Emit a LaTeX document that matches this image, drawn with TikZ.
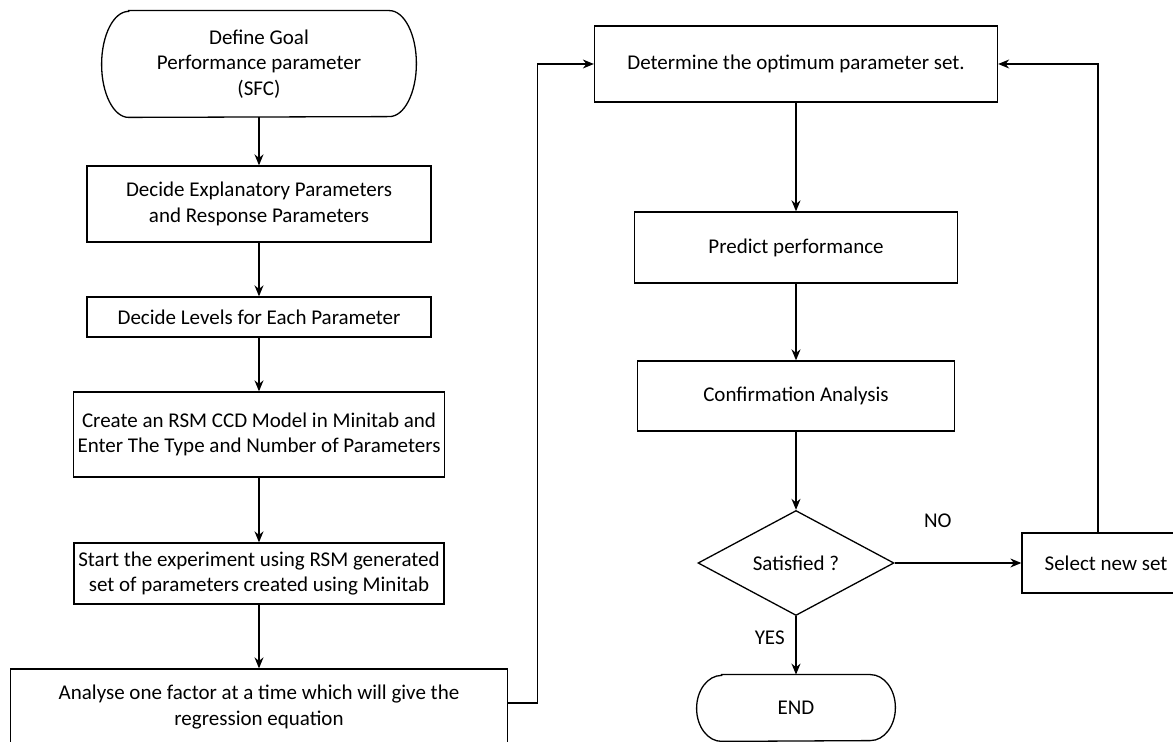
\documentclass[tikz,border=0pt]{standalone}
\usepackage{fontspec}
\setmainfont{Carlito}
\usepackage{tikz}
\usetikzlibrary{arrows.meta,positioning,shapes.geometric}

\begin{document}
\begin{tikzpicture}[x=0.5pt, y=-0.5pt,
      font=\fontsize{10.5}{12.6}\selectfont,
      box/.style={draw, line width=0.65pt, align=center, inner sep=2pt},
      term/.style={align=center, inner sep=2pt},
      dec/.style={diamond, draw, line width=0.65pt, inner sep=0pt},
      arr/.style={line width=0.65pt, -{Stealth[length=5.5pt, width=4.5pt]}}]
    \useasboundingbox (0,0) rectangle (1173,742);
    \node[term, minimum width=157pt, minimum height=53pt] (goal) at (259,64) {Define Goal\\Performance parameter\\(SFC)};
    \node[box, minimum width=172pt, minimum height=38pt] (expl) at (259,204) {Decide Explanatory Parameters\\and Response Parameters};
    \node[box, minimum width=172pt, minimum height=20pt] (levels) at (259,317) {Decide Levels for Each Parameter};
    \node[box, minimum width=185pt, minimum height=42.5pt] (model) at (259,434.5) {Create an RSM CCD Model in Minitab and\\Enter The Type and Number of Parameters};
    \node[box, minimum width=185pt, minimum height=30.5pt] (expt) at (259,573.5) {Start the experiment using RSM generated\\set of parameters created using Minitab};
    \node[box, minimum width=248.5pt, minimum height=38pt] (analyse) at (259,707) {Analyse one factor at a time which will give the\\regression equation};
    \node[box, minimum width=201.5pt, minimum height=38pt] (optim) at (796,64) {Determine the optimum parameter set.};
    \node[box, minimum width=161.5pt, minimum height=35.5pt] (predict) at (796,247.5) {Predict performance};
    \node[box, minimum width=158.5pt, minimum height=35pt] (confirm) at (796,396) {Confirmation Analysis};
    \node[dec, minimum width=98pt, minimum height=52.5pt] (sat) at (796,563) {Satisfied ?};
    \node[box, minimum width=84pt, minimum height=30pt] (newset) at (1106,563) {Select new set};
    \node[term, minimum width=99pt, minimum height=33pt] (done) at (796,708) {END};
    \foreach \n/\rx/\ry in {goal/13.5pt/26.5pt, done/12.5pt/16.5pt}
      \draw[line width=0.65pt] ([xshift=\rx]\n.north west) -- ([xshift=-\rx]\n.north east)
        arc[start angle=90, end angle=-90, x radius=\rx, y radius=\ry]
        -- ([xshift=\rx]\n.south west)
        arc[start angle=-90, end angle=-270, x radius=\rx, y radius=\ry] -- cycle;
    \draw[arr] (goal) -- (expl);
    \draw[arr] (expl) -- (levels);
    \draw[arr] (levels) -- (model);
    \draw[arr] (model) -- (expt);
    \draw[arr] (expt) -- (analyse);
    \draw[arr] ([yshift=2pt]analyse.east) -- ++(29,0) |- (optim.west);
    \draw[arr] (optim) -- (predict);
    \draw[arr] (predict) -- (confirm);
    \draw[arr] (confirm) -- (sat);
    \draw[arr] (sat) -- node[pos=0.34, above=14pt] {NO} (newset);
    \draw[arr] (sat) -- node[pos=0.37, left=2pt] {YES} (done);
    \draw[arr] ([xshift=-4pt]newset.north) |- (optim.east);
  \end{tikzpicture}
\end{document}
